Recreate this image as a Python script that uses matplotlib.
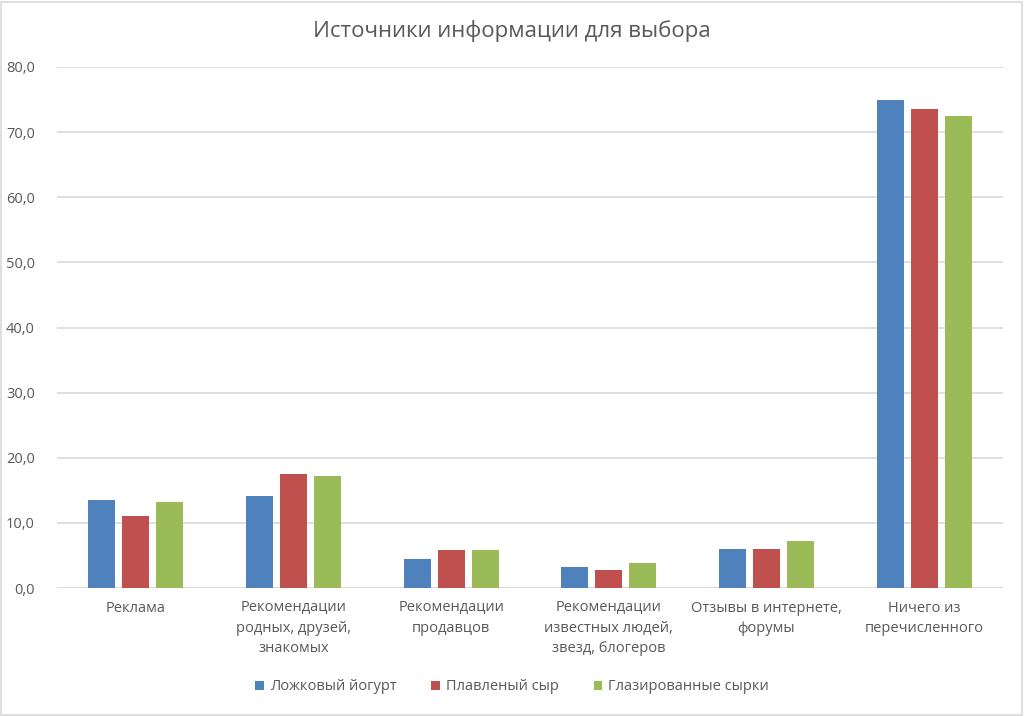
import matplotlib
matplotlib.use("Agg")
import matplotlib.pyplot as plt
import numpy as np
from matplotlib.patches import Rectangle

plt.rcParams['font.family'] = ['Open Sans', 'DejaVu Sans']

categories = ["Реклама", "Рекомендации\nродных, друзей,\nзнакомых", "Рекомендации\nпродавцов",
              "Рекомендации\nизвестных людей,\nзвезд, блогеров", "Отзывы в интернете,\nфорумы",
              "Ничего из\nперечисленного"]
series_names = ["Ложковый йогурт", "Плавленый сыр", "Глазированные сырки"]
yogurt = [13.5, 14.1, 4.4, 3.2, 6.0, 75.0]
cheese = [11.0, 17.5, 5.8, 2.7, 6.0, 73.6]
glazed = [13.2, 17.2, 5.8, 3.8, 7.2, 72.5]
colors = ["#4F81BD", "#C0504D", "#9BBB59"]
yticks = [0, 10, 20, 30, 40, 50, 60, 70, 80]
ytick_labels = ["0,0", "10,0", "20,0", "30,0", "40,0", "50,0", "60,0", "70,0", "80,0"]

txt = "#595959"
fig = plt.figure(figsize=(10.24, 7.16), dpi=100)
ax = fig.add_axes([57/1024, 1-588/716, 946/1024, 521/716])

x = np.arange(len(categories))
step = 0.216
w = 0.171
for i, (vals, c, n) in enumerate(zip([yogurt, cheese, glazed], colors, series_names)):
    ax.bar(x + (i-1)*step, vals, width=w, color=c, label=n, zorder=3)

ax.set_xlim(-0.5, len(categories)-0.5)
ax.set_ylim(0, 80)
ax.set_yticks(yticks)
ax.set_yticklabels(ytick_labels, color=txt, fontsize=10.5)
ax.set_xticks(x)
ax.set_xticklabels(categories, color=txt, fontsize=10.5, linespacing=1.5, va='top')
ax.tick_params(axis='both', length=0)
ax.tick_params(axis='y', pad=16)
ax.tick_params(axis='x', pad=9)
ax.grid(axis='y', color='#d9d9d9', linewidth=1.2, zorder=0)
for s in ax.spines.values():
    s.set_visible(False)
ax.axhline(0, color='#d9d9d9', linewidth=1.2, zorder=2)

fig.text(0.5, 1-31/716, "Источники информации для выбора", ha='center', va='center',
         fontsize=16, color=txt)

leg = fig.legend(loc='center', bbox_to_anchor=(0.5, 1-687/716), ncol=3, frameon=False,
                 fontsize=10.5, handlelength=0.6, handleheight=0.6, handletextpad=0.4,
                 columnspacing=2.4)
for t in leg.get_texts():
    t.set_color(txt)

fig.patches.append(Rectangle((1/1024, 1/716), 1021/1024, 713/716, transform=fig.transFigure,
                             fill=False, edgecolor='#d9d9d9', linewidth=1.2))

fig.savefig("out.png", dpi=100)
